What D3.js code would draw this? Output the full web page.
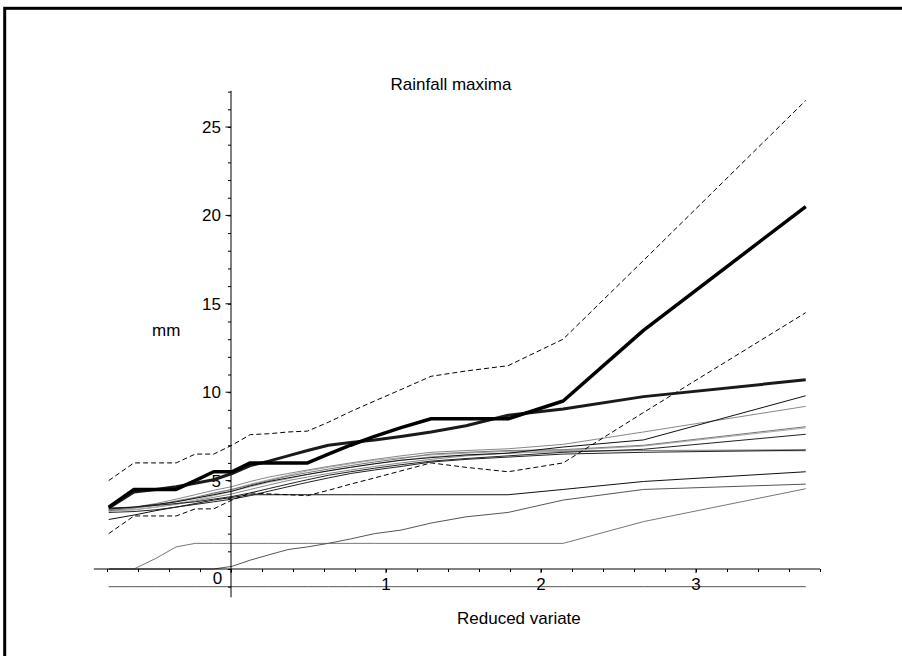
<!DOCTYPE html>
<html>
<head>
<meta charset="utf-8">
<script src="https://cdn.jsdelivr.net/npm/d3@7"></script>
<style>
  html, body { margin: 0; padding: 0; background: #fff; }
  svg { display: block; }
  text { font-family: "Liberation Sans", Arial, Helvetica, sans-serif; font-size: 17px; fill: #000; }
</style>
</head>
<body>
<svg id="chart" width="902" height="656"></svg>
<script>
// Gumbel reduced variate of each ranked annual maximum
const reducedVariate = [-0.789, -0.626, -0.485, -0.354, -0.231, -0.112, 0.006, 0.124, 0.244, 0.367,
  0.494, 0.628, 0.771, 0.926, 1.097, 1.291, 1.516, 1.788, 2.143, 2.661, 3.708];

// observed rainfall maxima (mm)
const observed = [3.5, 4.5, 4.5, 4.5, 5.0, 5.5, 5.5, 6.0, 6.0, 6.0, 6.0, 6.5, 7.0, 7.5, 8.0, 8.5, 8.5, 8.5, 9.5, 13.5, 20.5];
// mean of the simulated samples
const simulatedMean = [3.45, 4.35, 4.5, 4.65, 4.85, 5.05, 5.4, 5.85, 6.1, 6.4, 6.7, 7.0, 7.15, 7.3, 7.5, 7.75, 8.1, 8.7, 9.05, 9.75, 10.7];
// simulation envelope
const upperBound = [5.0, 6.0, 6.0, 6.0, 6.5, 6.5, 7.0, 7.6, 7.65, 7.75, 7.8, 8.3, 8.9, 9.5, 10.15, 10.9, 11.2, 11.5, 13.0, 17.45, 26.5];
const lowerBound = [2.0, 3.0, 3.0, 3.0, 3.4, 3.4, 3.9, 4.3, 4.25, 4.2, 4.15, 4.45, 4.8, 5.15, 5.55, 6.0, 5.75, 5.5, 6.0, 8.85, 14.5];

// individual simulated samples
const sample1 = [3.4, 3.5, 3.65, 3.8, 4.0, 4.2, 4.4, 4.7, 4.95, 5.15, 5.35, 5.55, 5.75, 5.95, 6.15, 6.3, 6.45, 6.55, 6.9, 7.3, 9.8];
const sample2 = [3.35, 3.5, 3.7, 3.95, 4.2, 4.45, 4.66, 4.95, 5.2, 5.4, 5.6, 5.8, 6.0, 6.2, 6.4, 6.6, 6.7, 6.8, 7.05, 7.75, 9.2];
const sample3 = [3.3, 3.45, 3.6, 3.85, 4.05, 4.3, 4.5, 4.75, 5.0, 5.25, 5.45, 5.65, 5.85, 6.05, 6.25, 6.5, 6.6, 6.7, 6.75, 7.0, 8.05];
const sample4 = [3.25, 3.35, 3.5, 3.7, 3.9, 4.15, 4.4, 4.65, 4.9, 5.1, 5.35, 5.55, 5.75, 5.95, 6.15, 6.35, 6.45, 6.55, 6.7, 6.95, 7.98];
const sample5 = [3.45, 3.5, 3.6, 3.7, 3.8, 3.95, 4.1, 4.3, 4.55, 4.8, 5.05, 5.3, 5.5, 5.7, 5.9, 6.1, 6.25, 6.4, 6.6, 6.77, 7.62];
const sample6 = [3.3, 3.35, 3.5, 3.65, 3.85, 4.05, 4.25, 4.5, 4.75, 5.0, 5.2, 5.4, 5.6, 5.8, 6.0, 6.2, 6.4, 6.55, 6.65, 6.7, 6.75];
const sample7 = [3.2, 3.25, 3.35, 3.5, 3.65, 3.8, 3.95, 4.15, 4.4, 4.65, 4.9, 5.15, 5.4, 5.6, 5.8, 6.05, 6.2, 6.33, 6.5, 6.6, 6.72];
const sample8 = [3.35, 3.45, 3.6, 3.8, 4.0, 4.25, 4.5, 4.8, 5.05, 5.3, 5.55, 5.75, 5.95, 6.15, 6.3, 6.45, 6.55, 6.65, 6.7, 6.7, 6.68];
const sample9 = [2.8, 3.05, 3.3, 3.5, 3.7, 3.9, 4.05, 4.2, 4.2, 4.2, 4.2, 4.2, 4.2, 4.2, 4.2, 4.2, 4.2, 4.2, 4.5, 4.95, 5.5];
const sample10 = [0, 0, 0, 0, 0, 0, 0.15, 0.5, 0.8, 1.1, 1.25, 1.45, 1.7, 2.0, 2.2, 2.6, 2.95, 3.2, 3.9, 4.5, 4.8];
const sample11 = [0, 0, 0.6, 1.25, 1.45, 1.45, 1.45, 1.45, 1.45, 1.45, 1.45, 1.45, 1.45, 1.45, 1.45, 1.45, 1.45, 1.45, 1.45, 2.68, 4.54];
const sample12 = [-1, -1, -1, -1, -1, -1, -1, -1, -1, -1, -1, -1, -1, -1, -1, -1, -1, -1, -1, -1, -1];

// axis ticks and labels
const xMajorTicks = [0, 1, 2, 3];
const yMajorTicks = [5, 10, 15, 20, 25];
const chartTitle = "Rainfall maxima";
const xTitle = "Reduced variate";
const yTitle = "mm";

const svg = d3.select("#chart");

// outer frame
svg.append("rect")
  .attr("x", 4.7).attr("y", 8.3)
  .attr("width", 1000).attr("height", 1000)
  .attr("fill", "none").attr("stroke", "#000").attr("stroke-width", 3);

const x = d3.scaleLinear().domain([-0.8, 3.8]).range([107, 820]);
const y = d3.scaleLinear().domain([0, 25]).range([569, 127]);

const line = d3.line()
  .x((d, i) => x(reducedVariate[i]))
  .y(d => y(d));

// thin sample lines
const thinSeries = [
  { v: sample12, c: "#555" },
  { v: sample11, c: "#777" },
  { v: sample10, c: "#555" },
  { v: sample9, c: "#111" },
  { v: sample8, c: "#aaa" },
  { v: sample6, c: "#888" },
  { v: sample7, c: "#222" },
  { v: sample4, c: "#aaa" },
  { v: sample3, c: "#777" },
  { v: sample5, c: "#222" },
  { v: sample2, c: "#888" },
  { v: sample1, c: "#111" }
];
svg.append("g").selectAll("path")
  .data(thinSeries)
  .join("path")
  .attr("d", d => line(d.v))
  .attr("fill", "none")
  .attr("stroke", d => d.c)
  .attr("stroke-width", 1);

// axes
const gx = svg.append("g").attr("transform", `translate(0,${y(0)})`);
gx.call(d3.axisBottom(x).tickValues(d3.range(-4, 20).map(k => k / 5)).tickSize(3).tickFormat(""))
  .call(g => g.select(".domain").remove());
gx.call(g => g.selectAll(".tick line").attr("stroke", "#000"));
gx.append("line")
  .attr("x1", x(-0.885)).attr("x2", x(3.8))
  .attr("stroke", "#000").attr("stroke-width", 1);
gx.selectAll(".major")
  .data(xMajorTicks)
  .join("line")
  .attr("class", "major")
  .attr("x1", d => x(d)).attr("x2", d => x(d))
  .attr("y1", 0).attr("y2", 4)
  .attr("stroke", "#000");

const gy = svg.append("g").attr("transform", `translate(${x(0)},0)`);
gy.call(d3.axisLeft(y).tickValues(d3.range(-1, 28)).tickSize(3).tickFormat(""))
  .call(g => g.select(".domain").remove());
gy.call(g => g.selectAll(".tick line").attr("stroke", "#000"));
gy.append("line")
  .attr("y1", y(-1.6)).attr("y2", y(27.05))
  .attr("stroke", "#000").attr("stroke-width", 1);
gy.selectAll(".major")
  .data(yMajorTicks)
  .join("line")
  .attr("class", "major")
  .attr("y1", d => y(d)).attr("y2", d => y(d))
  .attr("x1", -5.5).attr("x2", 0)
  .attr("stroke", "#000");
gy.selectAll(".ylab")
  .data(yMajorTicks)
  .join("text")
  .attr("class", "ylab")
  .attr("x", -10)
  .attr("y", d => y(d) + 6)
  .attr("text-anchor", "end")
  .text(d => d);

// x tick labels; the zero label sits beside the vertical axis
svg.append("g").selectAll("text")
  .data(xMajorTicks)
  .join("text")
  .attr("x", d => d === 0 ? x(0) - 13.5 : x(d))
  .attr("y", d => d === 0 ? y(0) + 14.5 : y(0) + 21)
  .attr("text-anchor", "middle")
  .text(d => d);

// envelope
const dashed = [upperBound, lowerBound];
svg.append("g").selectAll("path")
  .data(dashed)
  .join("path")
  .attr("d", d => line(d))
  .attr("fill", "none")
  .attr("stroke", "#000")
  .attr("stroke-width", 1)
  .attr("stroke-dasharray", "5,3");

// simulated mean and observed series
svg.append("path")
  .attr("d", line(simulatedMean))
  .attr("fill", "none")
  .attr("stroke", "#1a1a1a")
  .attr("stroke-width", 3)
  .attr("stroke-linejoin", "round");
svg.append("path")
  .attr("d", line(observed))
  .attr("fill", "none")
  .attr("stroke", "#000")
  .attr("stroke-width", 3.5)
  .attr("stroke-linejoin", "round");

// titles
svg.append("text").attr("x", 451).attr("y", 90).attr("text-anchor", "middle").text(chartTitle);
svg.append("text").attr("x", 152).attr("y", 336).text(yTitle);
svg.append("text").attr("x", 457).attr("y", 624).text(xTitle);
</script>
</body>
</html>
